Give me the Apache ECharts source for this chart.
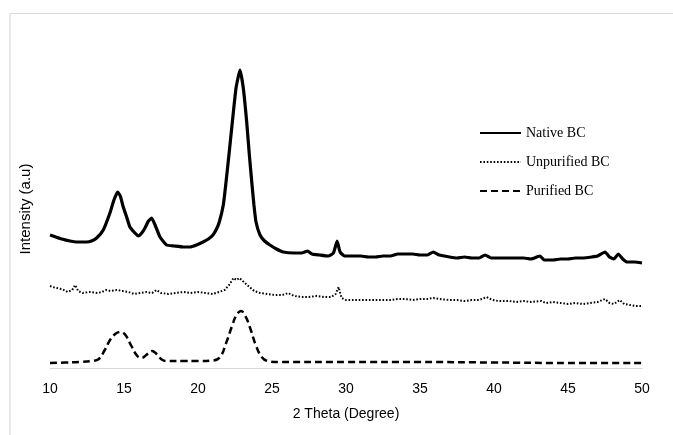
<!DOCTYPE html>
<html>
<head>
<meta charset="utf-8">
<script src="https://cdn.jsdelivr.net/npm/echarts@6/dist/echarts.min.js"></script>
<style>html,body{margin:0;padding:0;background:#fff;}#chart{width:673px;height:435px;}</style>
</head>
<body>
<div id="chart"></div>
<script>
// 2θ (degree) and offset intensity (a.u.)
const seriesNames = ["Native BC", "Unpurified BC", "Purified BC"];
const xTicks = [10, 15, 20, 25, 30, 35, 40, 45, 50];

const nativeBC = [
 [10.0,133],[10.4,131],[10.8,129],[11.35,127],[11.8,126],[12.48,126],[12.8,127],[13.15,130],[13.6,138],[14.05,155],
 [14.32,168],[14.57,176],[14.75,172],[14.95,161],[15.2,150],[15.4,141],[15.74,135],[15.97,132],[16.2,135],[16.42,140],
 [16.65,147],[16.87,150],[17.1,143],[17.43,131],[17.88,123],[18.4,122],[19.0,121],[19.46,121],[19.9,123],[20.34,126],
 [20.7,129],[21.01,133],[21.25,139],[21.44,146],[21.71,163],[21.85,180],[22.09,213],[22.32,246],[22.57,280],[22.84,298],
 [23.06,280],[23.29,246],[23.47,213],[23.67,180],[23.78,163],[23.92,146],[24.19,133],[24.5,127],[24.86,123],[25.3,119],
 [25.76,116],[26.5,115],[27.0,115],[27.4,117],[27.7,114],[28.2,113],[28.8,112],[29.15,115],[29.4,127],[29.6,116],[29.9,112],
 [30.5,112],[31.0,112],[31.5,111],[32.0,111],[32.5,112],[33.0,112],[33.5,114],[34.0,114],[34.5,114],[35.0,113],
 [35.5,113],[35.9,116],[36.3,113],[37.0,111],[37.5,110],[38.0,111],[38.5,110],[39.0,110],[39.4,113],[39.8,110],
 [40.5,110],[41.0,110],[41.5,110],[42.0,110],[42.5,109],[43.1,112],[43.4,108],[44.0,108],[44.5,109],[45.0,109],
 [45.5,110],[46.0,110],[46.6,111],[47.0,112],[47.5,116],[47.8,111],[48.1,109],[48.4,114],[48.7,109],[49.0,106],
 [49.5,106],[50.0,105]
];

const unpurifiedBC = [
 [10.0,82],[10.4,80],[10.8,79],[11.2,76],[11.5,78],[11.7,83],[11.9,77],[12.2,75],[12.7,76],[13.2,75],
 [13.5,76],[13.8,78],[14.1,77],[14.5,78],[14.9,77],[15.3,76],[15.7,74],[16.1,75],[16.5,76],[16.9,75],
 [17.2,78],[17.5,75],[18.0,74],[18.5,75],[19.0,76],[19.5,75],[20.0,76],[20.5,75],[21.0,74],[21.4,76],
 [21.8,78],[22.1,83],[22.4,90],[22.6,88],[22.8,90],[23.1,86],[23.4,82],[23.8,77],[24.2,75],[24.7,74],
 [25.2,73],[25.7,73],[26.1,75],[26.5,72],[27.0,71],[27.5,71],[28.0,72],[28.5,71],[29.0,71],[29.3,74],
 [29.5,81],[29.7,70],[30.0,68],[30.5,68],[31.0,68],[31.5,68],[32.0,68],[32.5,68],[33.0,68],[33.5,69],
 [34.0,69],[34.5,68],[35.0,69],[35.5,69],[35.9,70],[36.3,69],[37.0,68],[37.5,68],[38.0,67],[38.5,68],
 [39.0,68],[39.5,71],[39.9,68],[40.3,67],[41.0,67],[41.5,66],[42.0,67],[42.5,66],[43.2,67],[43.5,65],
 [44.0,66],[44.5,65],[45.0,64],[45.5,65],[46.0,64],[46.5,65],[47.0,66],[47.5,69],[47.8,65],[48.1,64],
 [48.5,68],[48.8,64],[49.2,63],[49.6,62],[50.0,62]
];

const purifiedBC = [
 [10.0,5],[11.0,5.5],[12.0,6],[12.8,7],[13.3,9],[13.7,18],[14.1,29],[14.5,35],[14.8,36],[15.1,33],
 [15.5,22],[15.9,12],[16.2,10],[16.5,13],[16.9,17],[17.2,14],[17.6,8],[18.0,7],[19.0,7],[20.0,7],
 [21.0,7.5],[21.5,11],[21.9,25],[22.3,42],[22.6,53],[22.9,57],[23.2,52],[23.5,41],[23.9,23],[24.3,11],
 [24.7,7],[25.5,6],[30.0,6],[35.0,6],[40.0,5.5],[45.0,5],[50.0,5]
];

const chart = echarts.init(document.getElementById('chart'), null, {renderer: 'canvas'});
const sans = 'Liberation Sans, Arial, sans-serif';
const serif = 'Liberation Serif, Times New Roman, serif';
chart.setOption({
  animation: false,
  backgroundColor: '#fff',
  graphic: [{
    type: 'rect', silent: true, z: -1,
    shape: {x: 10, y: 13.5, width: 700, height: 500},
    style: {fill: 'none', stroke: '#d9d9d9', lineWidth: 1.2}
  }],
  grid: {left: 50, right: 31, top: 49, bottom: 66, containLabel: false},
  legend: {
    orient: 'vertical', left: 474, top: 121, itemGap: 15,
    itemWidth: 41, itemHeight: 14,
    itemStyle: {opacity: 0},
    textStyle: {fontFamily: serif, fontSize: 14, color: '#000'},
    data: seriesNames
  },
  xAxis: {
    type: 'value', min: 10, max: 50, interval: 5,
    name: '2 Theta (Degree)', nameLocation: 'middle', nameGap: 38,
    nameTextStyle: {fontFamily: sans, fontSize: 14, color: '#000'},
    axisLine: {show: true, lineStyle: {color: '#d9d9d9', width: 1.2}},
    axisTick: {show: false},
    splitLine: {show: false},
    axisLabel: {fontFamily: sans, fontSize: 14, color: '#000', margin: 13,
      formatter: v => xTicks.includes(v) ? String(v) : ''}
  },
  yAxis: {
    type: 'value', min: -1, max: 319,
    name: 'Intensity (a.u)', nameLocation: 'middle', nameGap: 17, nameRotate: 90,
    nameTextStyle: {fontFamily: sans, fontSize: 15, color: '#000'},
    axisLine: {show: false}, axisTick: {show: false},
    axisLabel: {show: false}, splitLine: {show: false}
  },
  series: [
    {name: seriesNames[0], type: 'line', data: nativeBC, symbol: 'none', smooth: 0.15,
     lineStyle: {color: '#000', width: 3.2}, itemStyle: {color: '#000'}},
    {name: seriesNames[1], type: 'line', data: unpurifiedBC, symbol: 'none',
     lineStyle: {color: '#000', width: 2, type: [1.6, 1.8]}, itemStyle: {color: '#000'}},
    {name: seriesNames[2], type: 'line', data: purifiedBC, symbol: 'none', smooth: 0.4,
     lineStyle: {color: '#000', width: 2.5, type: [7, 4]}, itemStyle: {color: '#000'}}
  ]
});
</script>
</body>
</html>
